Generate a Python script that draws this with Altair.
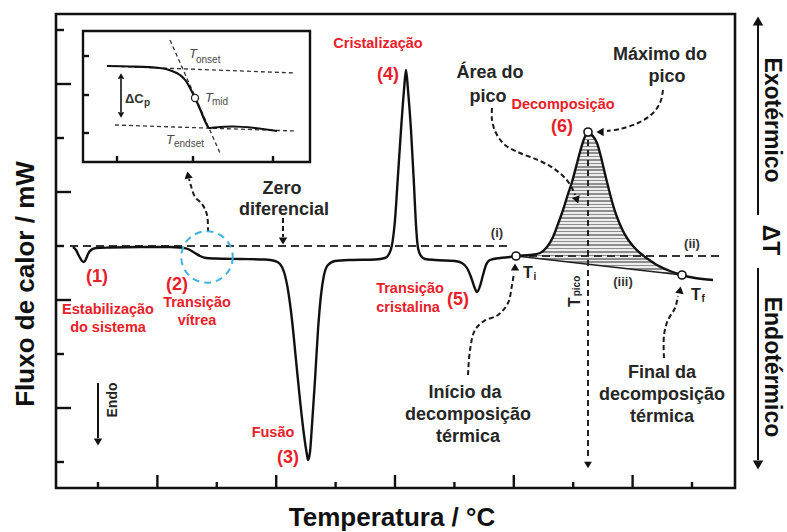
import altair as alt
import numpy as np
import pandas as pd

FONT = "Liberation Sans"
RED = "#e8202a"
INK = "#1c1c1c"
GREY_TXT = "#4a4a4a"

# ---------------- data (arbitrary temperature / heat-flow units) ----------------
temp = [17, 20, 23, 26, 28, 30, 32, 35, 40, 54,
        84, 114, 124, 132, 139, 144, 150, 159, 184, 209,
        219, 224, 228, 232, 236, 240, 244, 248, 251, 252,
        254, 256, 259, 262, 265, 268, 272, 279, 294, 319,
        329, 333, 336, 339, 342, 345, 348, 350, 352, 355,
        358, 360, 362, 365, 369, 379, 399, 406, 411, 415,
        418, 421, 424, 427, 430, 434, 444, 454, 460, 474,
        484, 491, 497, 502, 507, 512, 516, 520, 524, 528,
        532, 536, 541, 545, 549, 553, 557, 561, 566, 571,
        577, 584, 592, 601, 614, 626, 639, 657]
flow = [-1, -4, -10, -15, -16, -13, -8, -4, -2, -1.5,
        -1, -1, -1.5, -3, -7, -10, -12, -12.5, -13, -13.5,
        -15, -18, -26, -44, -74, -114, -154, -189, -209, -214,
        -206, -179, -134, -84, -49, -29, -19, -15, -14, -13.5,
        -12, -8, 1, 26, 71, 116, 156, 176, 156, 116,
        61, 21, -2, -10, -13, -14, -15, -17, -22, -31,
        -40, -46, -40, -29, -19, -14, -12, -11, -10, -9,
        -7, -1, 9, 22, 36, 52, 64, 79, 94, 107,
        114, 111, 103, 89, 72, 56, 41, 29, 17, 8,
        0, -7, -13, -19, -25, -29, -32, -34]

T_i = (460, -10)
T_f = (626, -29)
T_peak = (532, 114)

inset_temp = [51, 74, 104, 116, 124, 130, 134, 139, 144, 149, 153, 158, 177, 199, 221]
inset_flow = [180, 179.5, 178, 175, 171, 165, 158, 148, 137, 125, 118, 118.5, 119.5, 118, 115]
T_mid = (139, 148)

x_ticks_major = [101.4, 220.2, 339.0, 457.8, 576.6]
x_ticks_minor = [42.0, 160.8, 279.6, 398.4, 517.2, 636.0]
y_ticks_major = [162, 54, -54, -162]
y_ticks_minor = [216, 108, 0, -108, -216]

X_DOM = [0, 679]
Y_DOM = [-242, 232]

XS = alt.Scale(domain=X_DOM, nice=False, zero=False)
YS = alt.Scale(domain=Y_DOM, nice=False, zero=False)


def X(f="x"):
    return alt.X(f"{f}:Q", scale=XS, axis=None)


def Y(f="y"):
    return alt.Y(f"{f}:Q", scale=YS, axis=None)


def rules(segs, **kw):
    df = pd.DataFrame(segs, columns=["x", "y", "x2", "y2"])
    return alt.Chart(df).mark_rule(**kw).encode(x=X("x"), y=Y("y"), x2="x2:Q", y2="y2:Q")


def texts(rows, **kw):
    df = pd.DataFrame(rows, columns=["t", "x", "y"])
    base = dict(font=FONT, baseline="middle")
    base.update(kw)
    return alt.Chart(df).mark_text(**base).encode(x=X("x"), y=Y("y"), text="t:N")


layers = []

# inset frame
inset_box = pd.DataFrame([[27, 84, 254, 215]], columns=["x", "y", "x2", "y2"])
layers.append(alt.Chart(inset_box).mark_rect(fill="white", stroke="#111", strokeWidth=2.4).encode(
    x=X("x"), y=Y("y"), x2="x2:Q", y2="y2:Q"))

# ticks of main frame (inward) and inset
tick_segs = [[x, Y_DOM[0], x, Y_DOM[0] + 13] for x in x_ticks_major]
tick_segs += [[x, Y_DOM[0], x, Y_DOM[0] + 6] for x in x_ticks_minor]
tick_segs += [[0, y, 15, y] for y in y_ticks_major]
tick_segs += [[0, y, 8, y] for y in y_ticks_minor]
tick_segs += [[27, y, 33, y] for y in [190, 151, 113]]
tick_segs += [[x, 84, x, 90] for x in [61, 137, 217]]
layers.append(rules(tick_segs, color="#111", strokeWidth=2.4))

# hatched peak area between curve and baseline (iii)
main = pd.DataFrame({"x": temp, "y": flow})
pk = main[(main.x >= T_i[0]) & (main.x <= T_f[0])].copy()
pk["y2"] = np.interp(pk.x, [T_i[0], T_f[0]], [T_i[1], T_f[1]])
n_stripes = 42
stops = []
for i in range(n_stripes):
    a, b, c = i / n_stripes, (i + 0.45) / n_stripes, (i + 1) / n_stripes
    stops += [{"offset": a, "color": "#8e8e8e"}, {"offset": b, "color": "#8e8e8e"},
              {"offset": b, "color": "#ededed"}, {"offset": c, "color": "#ededed"}]
grad = {"gradient": "linear", "x1": 0, "x2": 0, "y1": 0, "y2": 1, "stops": stops}
layers.append(alt.Chart(pk).mark_area(color=grad, interpolate="monotone").encode(
    x=X("x"), y=Y("y"), y2="y2:Q"))

# dashed reference lines
layers.append(rules([[14, 0, 452, 0], [460, -10, 666, -10]],
                    color="#333", strokeWidth=1.8, strokeDash=[8, 5]))
layers.append(rules([[T_peak[0], 106, T_peak[0], -214]],
                    color="#222", strokeWidth=2, strokeDash=[6, 4]))
layers.append(rules([[T_i[0], T_i[1], T_f[0], T_f[1]]], color="#222", strokeWidth=1.6))
# inset dashed construction lines
layers.append(rules([[51, 180, 239, 173], [59, 121, 239, 115], [114, 206, 164, 93]],
                    color="#333", strokeWidth=1.3, strokeDash=[4, 3]))

# main curve and inset curve
layers.append(alt.Chart(main).mark_line(color="#111", strokeWidth=2.4, interpolate="monotone").encode(
    x=X("x"), y=Y("y")))
inset = pd.DataFrame({"x": inset_temp, "y": inset_flow})
layers.append(alt.Chart(inset).mark_line(color="#111", strokeWidth=2.2, interpolate="monotone").encode(
    x=X("x"), y=Y("y")))

# dashed curved arrows
arrow_paths = {
    "vitrea": [(152, 14), (151, 31), (146, 42), (139, 49), (135, 60), (133, 67)],
    "zero": [(227, 28), (227, 9)],
    "area": [(436, 138), (436, 126), (440, 113), (449, 101), (464, 93), (482, 86),
             (497, 78), (509, 68), (516, 58), (519, 51)],
    "maximo": [(607, 156), (604, 143), (596, 132), (582, 123), (564, 117), (551, 115)],
    "inicio": [(412, -129), (414, -104), (419, -84), (428, -75), (442, -69), (452, -57),
               (456, -39), (458, -27)],
    "final": [(608, -112), (608, -89), (612, -74), (619, -62), (622, -50)],
}
rows = []
for k, pts in arrow_paths.items():
    for j, (x, y) in enumerate(pts):
        rows.append({"id": k, "o": j, "x": x, "y": y})
arr = pd.DataFrame(rows)
layers.append(alt.Chart(arr).mark_line(color="#1a1a1a", strokeWidth=2, strokeDash=[5, 3],
                                       interpolate="catmull-rom").encode(
    x=X("x"), y=Y("y"), detail="id:N", order="o:Q"))

# solid arrows
layers.append(rules([[702, 31, 702, 222], [702, -22, 702, -214], [42, -137, 42, -192]],
                    color="#111", strokeWidth=2))
layers.append(rules([[65, 167, 65, 134]], color="#111", strokeWidth=1.6))

# arrow heads
heads = pd.DataFrame([
    [132, 71, "triangle-up", 350, 70],
    [227, 5, "triangle-down", 0, 70],
    [521, 46, "triangle-down", 340, 70],
    [544, 114, "triangle-left", 0, 70],
    [459, -21, "triangle-up", 0, 70],
    [624, -44, "triangle-up", 10, 70],
    [532, -219, "triangle-down", 0, 60],
    [702, 225, "triangle-up", 0, 110],
    [702, -219, "triangle-down", 0, 110],
    [42, -196, "triangle-down", 0, 70],
    [65, 170, "triangle-up", 0, 40],
    [65, 131, "triangle-down", 0, 40],
], columns=["x", "y", "shape", "ang", "size"])
layers.append(alt.Chart(heads).mark_point(filled=True, color="#111", opacity=1).encode(
    x=X("x"), y=Y("y"), shape=alt.Shape("shape:N", scale=None),
    angle=alt.Angle("ang:Q", scale=None), size=alt.Size("size:Q", scale=None)))

# dashed cyan circle around the glass transition
circ = pd.DataFrame([[151, -11]], columns=["x", "y"])
layers.append(alt.Chart(circ).mark_point(shape="circle", size=2650, filled=False, color="#3db3e3",
                                         strokeWidth=2, strokeDash=[7, 5], opacity=1).encode(
    x=X("x"), y=Y("y")))

# open circle markers
pts = pd.DataFrame([list(T_i), list(T_f), list(T_peak)], columns=["x", "y"])
layers.append(alt.Chart(pts).mark_point(shape="circle", size=65, filled=True, fill="white",
                                        stroke="#111", strokeWidth=1.6, opacity=1).encode(
    x=X("x"), y=Y("y")))
mid = pd.DataFrame([list(T_mid)], columns=["x", "y"])
layers.append(alt.Chart(mid).mark_point(shape="circle", size=50, filled=True, fill="white",
                                        stroke="#222", strokeWidth=1.3, opacity=1).encode(
    x=X("x"), y=Y("y")))

# ---------------- text ----------------
layers.append(texts([["(1)", 41, -31], ["(2)", 121, -39], ["(3)", 232, -212],
                     ["(4)", 332, 171], ["(5)", 402, -54], ["(6)", 506, 119]],
                    fontSize=18, fontWeight="bold", color=RED))
layers.append(texts([["Estabilização", 52, -64], ["do sistema", 52, -82],
                     ["Transição", 141, -57], ["vítrea", 141, -75],
                     ["Fusão", 217, -187], ["Cristalização", 322, 202],
                     ["Transição", 354, -43], ["cristalina", 352, -62],
                     ["Decomposição", 507, 141]],
                    fontSize=14.5, fontWeight="bold", color=RED))
layers.append(texts([["Zero", 226, 57], ["diferencial", 228, 36],
                     ["Área do", 434, 173], ["pico", 432, 149],
                     ["Máximo do", 604, 191], ["pico", 611, 169],
                     ["Início da", 409, -147], ["decomposição", 412, -169], ["térmica", 412, -191],
                     ["Final da", 606, -127], ["decomposição", 606, -149], ["térmica", 606, -171]],
                    fontSize=18, fontWeight="bold", color="#262626"))
layers.append(texts([["(i)", 441, 13], ["(ii)", 636, 2], ["(iii)", 567, -36]],
                    fontSize=13, fontWeight="bold", color="#333"))
layers.append(texts([["T", 467, -27], ["T", 635, -49]],
                    fontSize=16, fontWeight="bold", color="#222", align="left"))
layers.append(texts([["i", 477.5, -31], ["f", 645.5, -53]],
                    fontSize=10, fontWeight="bold", color="#222", align="left"))
layers.append(texts([["T", 519, -56]], fontSize=16, fontWeight="bold", color="#222", angle=270))
layers.append(texts([["pico", 521, -40]], fontSize=10, fontWeight="bold", color="#222", angle=270))
# inset labels
layers.append(texts([["T", 133, 192], ["T", 149, 148], ["T", 110, 106]],
                    fontSize=13, fontStyle="italic", color=GREY_TXT, align="left"))
layers.append(texts([["onset", 140, 186], ["mid", 156, 144], ["endset", 118, 102]],
                    fontSize=10, color=GREY_TXT, align="left"))
layers.append(texts([["ΔC", 69, 147]], fontSize=13, fontWeight="bold", color="#333", align="left"))
layers.append(texts([["p", 88, 143]], fontSize=10, fontWeight="bold", color="#333", align="left"))
layers.append(texts([["Endo", 57, -154]], fontSize=14, fontWeight="bold", color="#222", angle=270))
# right side
layers.append(texts([["Exotérmico", 716, 126], ["ΔT", 714, 6], ["Endotérmico", 716, -121]],
                    fontSize=23, fontWeight="bold", color="#111", angle=90))
# axis titles
layers.append(texts([["Temperatura / °C", 336, -272]], fontSize=26, fontWeight="bold", color="#111"))
layers.append(texts([["Fluxo de calor / mW", -30, -38]], fontSize=26, fontWeight="bold",
                    color="#111", angle=270))

chart = alt.layer(*layers).properties(
    width=679, height=474,
    padding={"left": 56, "top": 14, "right": 52, "bottom": 44},
    autosize=alt.AutoSizeParams(type="none"),
    background="white",
).configure_view(stroke="#111", strokeWidth=2.6)

chart.save("out.html", embed_options={"renderer": "svg", "actions": False})
